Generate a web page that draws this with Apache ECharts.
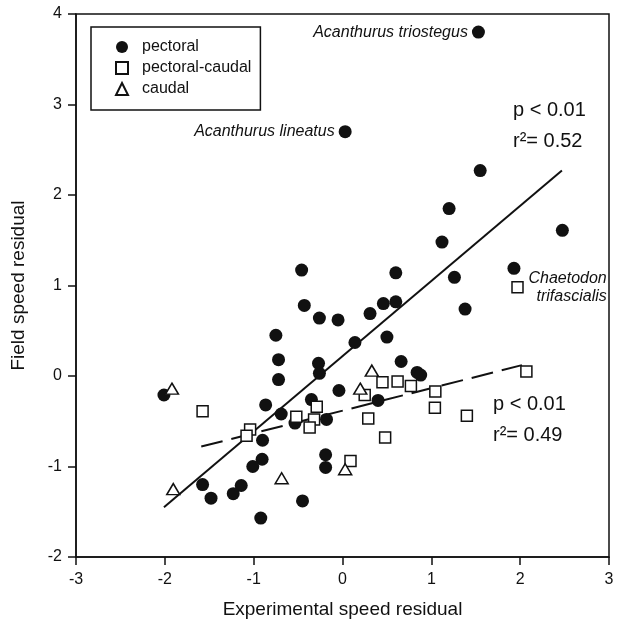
<!DOCTYPE html>
<html>
<head>
<meta charset="utf-8">
<script src="https://cdn.jsdelivr.net/npm/echarts@6/dist/echarts.min.js"></script>
<style>
html,body{margin:0;padding:0;background:#fff;}
#chart{width:622px;height:630px;}
</style>
</head>
<body>
<div id="chart"></div>
<script>
// ---- data ----
const pectoral = [
  [0.03, 2.70], [1.53, 3.80], [1.55, 2.27], [2.475, 1.61], [1.20, 1.85], [1.12, 1.48],
  [-0.46, 1.17], [0.60, 1.14], [1.26, 1.09], [1.93, 1.19], [0.46, 0.80], [0.60, 0.82],
  [-0.43, 0.78], [1.38, 0.74], [0.31, 0.69], [-0.26, 0.64], [-0.05, 0.62], [-0.75, 0.45],
  [0.50, 0.43], [0.14, 0.37], [-0.72, 0.18], [-0.27, 0.14], [0.66, 0.16], [-0.26, 0.03],
  [0.84, 0.04], [0.88, 0.01], [-0.72, -0.04], [-0.04, -0.16], [-2.01, -0.21], [-0.35, -0.26],
  [0.40, -0.27], [-0.865, -0.32], [-0.69, -0.42], [-0.18, -0.48], [-0.535, -0.52], [-0.90, -0.71],
  [-0.19, -0.87], [-0.905, -0.92], [-1.01, -1.00], [-0.19, -1.01], [-1.575, -1.20], [-1.14, -1.21],
  [-1.23, -1.30], [-1.48, -1.35], [-0.45, -1.38], [-0.92, -1.57]
];
const pectoralCaudal = [
  [1.97, 0.98], [2.07, 0.05], [0.45, -0.07], [0.62, -0.06], [0.77, -0.11], [1.045, -0.17],
  [1.04, -0.35], [1.40, -0.44], [0.25, -0.21], [0.29, -0.47], [0.48, -0.68], [-1.575, -0.39],
  [-1.04, -0.59], [-1.08, -0.66], [-0.52, -0.45], [-0.29, -0.34], [-0.32, -0.48], [-0.37, -0.57],
  [0.09, -0.94]
];
const caudal = [
  [-1.92, -0.14], [-1.905, -1.25], [-0.685, -1.13], [0.03, -1.03], [0.33, 0.06], [0.20, -0.14]
];
const pectoralFit = [[-2.01, -1.45], [2.47, 2.27]];
const pectoralCaudalFit = [[-1.59, -0.78], [2.02, 0.12]];
const pectoralNames = {0: 'Acanthurus lineatus', 1: 'Acanthurus triostegus'};
const pectoralCaudalNames = {0: 'Chaetodon\ntrifascialis'};
const seriesNames = ['pectoral', 'pectoral-caudal', 'caudal'];
const statsUpper = ['p < 0.01', 'r²= 0.52'];
const statsLower = ['p < 0.01', 'r²= 0.49'];
const xName = 'Experimental speed residual';
const yName = 'Field speed residual';

const FONT = '"Liberation Sans", Arial, Helvetica, sans-serif';
const chart = echarts.init(document.getElementById('chart'), null, {renderer: 'canvas'});

const pectoralData = pectoral.map((p, i) => pectoralNames[i] ? {
  value: p,
  label: {show: true, position: 'left', distance: 4, formatter: pectoralNames[i],
    fontStyle: 'italic', fontSize: 16, color: '#111', fontFamily: FONT}
} : p);
const pcData = pectoralCaudal.map((p, i) => pectoralCaudalNames[i] ? {
  value: p,
  label: {show: true, position: 'right', distance: 3,
    formatter: pectoralCaudalNames[i].split('\n').map(s => '{a|' + s + '}').join('\n'),
    rich: {a: {width: 80, align: 'right', fontStyle: 'italic', fontSize: 16, lineHeight: 18, color: '#111', fontFamily: FONT}}}
} : p);

const axisCommon = {
  axisLine: {show: true, onZero: false, lineStyle: {color: '#111', width: 1.5}},
  axisTick: {show: true, inside: false, length: 8, lineStyle: {color: '#111', width: 1.5}},
  splitLine: {show: false},
  axisLabel: {color: '#111', fontSize: 16, fontFamily: FONT},
  nameLocation: 'middle',
  nameTextStyle: {color: '#111', fontSize: 19, fontFamily: FONT}
};

const statText = (x, y, lines) => lines.map((t, k) => ({
  type: 'text', left: x, top: y + k * 31,
  style: {text: t, fontSize: 20, fontFamily: FONT, fill: '#111'}
}));

chart.setOption({
  animation: false,
  backgroundColor: '#fff',
  textStyle: {fontFamily: FONT},
  grid: {left: 76, right: 13, top: 14, bottom: 73, show: true, borderColor: '#111', borderWidth: 1.5, containLabel: false},
  xAxis: Object.assign({}, axisCommon, {type: 'value', min: -3, max: 3, interval: 1,
    name: xName, nameGap: 43, axisLabel: Object.assign({}, axisCommon.axisLabel, {margin: 15})}),
  yAxis: Object.assign({}, axisCommon, {type: 'value', min: -2, max: 4, interval: 1,
    name: yName, nameGap: 48, axisLabel: Object.assign({}, axisCommon.axisLabel, {margin: 14})}),
  legend: {
    data: seriesNames, orient: 'vertical', left: 91, top: 27,
    borderColor: '#111', borderWidth: 1.5, padding: [12, 9, 13, 24],
    itemWidth: 12, itemHeight: 12, itemGap: 5,
    textStyle: {fontSize: 16, color: '#111', fontFamily: FONT, padding: [0, 0, 0, 9]}
  },
  series: [
    {name: seriesNames[0], type: 'scatter', data: pectoralData, symbol: 'circle', symbolSize: 13,
      itemStyle: {color: '#111', opacity: 1}, z: 5},
    {name: seriesNames[1], type: 'scatter', data: pcData, symbol: 'rect', symbolSize: 11,
      itemStyle: {color: '#fff', borderColor: '#111', borderWidth: 1.5, opacity: 1}, z: 6},
    {name: seriesNames[2], type: 'scatter', data: caudal, symbol: 'triangle', symbolSize: [13, 11],
      itemStyle: {color: '#fff', borderColor: '#111', borderWidth: 1.5, opacity: 1}, z: 6},
    {name: 'pectoral fit', type: 'line', data: pectoralFit, symbol: 'none',
      lineStyle: {color: '#111', width: 2}, z: 3, silent: true},
    {name: 'pectoral-caudal fit', type: 'line', data: pectoralCaudalFit, symbol: 'none',
      lineStyle: {color: '#111', width: 2, type: [22, 9]}, z: 3, silent: true}
  ],
  graphic: [].concat(statText(513, 100, statsUpper), statText(493, 394, statsLower))
});
</script>
</body>
</html>
